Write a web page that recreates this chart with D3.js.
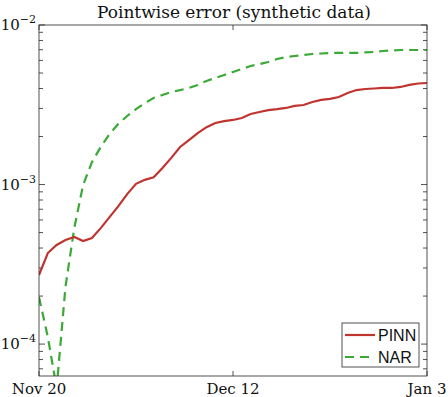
<!DOCTYPE html>
<html>
<head>
<meta charset="utf-8">
<script src="https://cdn.jsdelivr.net/npm/d3@7"></script>
<style>
  body { margin: 0; background: #fff; }
  svg { display: block; }
  .lbl { font-family: "DejaVu Serif", "Liberation Serif", serif; fill: #111; }
  .leg { font-family: "Liberation Sans", Arial, sans-serif; fill: #111; }
</style>
</head>
<body>
<div id="chart"></div>
<script>
// days since Nov 20 (daily values)
var startDate = new Date(2020, 10, 20);
var endDate = new Date(2021, 0, 3);

var pinn = [2.71e-4, 3.72e-4, 4.18e-4, 4.49e-4, 4.69e-4, 4.42e-4, 4.62e-4, 5.33e-4, 6.25e-4, 7.33e-4,
  8.71e-4, 1.01e-3, 1.07e-3, 1.11e-3, 1.27e-3, 1.47e-3, 1.72e-3, 1.90e-3, 2.10e-3, 2.29e-3,
  2.43e-3, 2.50e-3, 2.54e-3, 2.61e-3, 2.77e-3, 2.85e-3, 2.93e-3, 2.97e-3, 3.02e-3, 3.11e-3,
  3.15e-3, 3.29e-3, 3.39e-3, 3.44e-3, 3.54e-3, 3.75e-3, 3.91e-3, 3.97e-3, 4.00e-3, 4.03e-3,
  4.03e-3, 4.09e-3, 4.21e-3, 4.30e-3, 4.33e-3];

var nar = [1.97e-4, 1.11e-4, 5.3e-5, 2.28e-4, 5.33e-4, 9.93e-4, 1.38e-3, 1.72e-3, 2.07e-3, 2.40e-3,
  2.69e-3, 2.97e-3, 3.24e-3, 3.49e-3, 3.64e-3, 3.80e-3, 3.91e-3, 4.03e-3, 4.21e-3, 4.46e-3,
  4.66e-3, 4.86e-3, 5.08e-3, 5.30e-3, 5.53e-3, 5.69e-3, 5.86e-3, 6.12e-3, 6.30e-3, 6.39e-3,
  6.48e-3, 6.58e-3, 6.63e-3, 6.68e-3, 6.68e-3, 6.68e-3, 6.68e-3, 6.73e-3, 6.78e-3, 6.87e-3,
  6.92e-3, 6.97e-3, 6.97e-3, 6.97e-3, 6.97e-3];

var xTickLabels = ["Nov 20", "Dec 12", "Jan 3"];
var xTickDates = [new Date(2020, 10, 20), new Date(2020, 11, 12), new Date(2021, 0, 3)];
var yTickExps = [-2, -3, -4];

var W = 448, H = 397;
var margin = {top: 25, right: 21, bottom: 21, left: 39},
  width = W - margin.left - margin.right,
  height = H - margin.top - margin.bottom;

var x = d3.scaleTime().domain([startDate, endDate]).range([0, width]);
var y = d3.scaleLog().domain([Math.pow(10, -4.2), 1e-2]).range([height, 0]);

var dayMs = 24 * 3600 * 1000;
function dateOf(i) { return new Date(startDate.getTime() + i * dayMs); }

var svg = d3.select("#chart").append("svg")
  .attr("width", W)
  .attr("height", H);

var g = svg.append("g")
  .attr("transform", "translate(" + margin.left + "," + margin.top + ")");

g.append("clipPath").attr("id", "clip")
  .append("rect").attr("width", width).attr("height", height);

var axisColor = "#262626";

// minor log ticks, inward on both sides
var minor = [];
for (var e = -5; e < -2; e++) {
  for (var k = 1; k < 10; k++) {
    var v = k * Math.pow(10, e);
    if (v >= y.domain()[0] && v <= y.domain()[1]) minor.push({v: v, major: k == 1});
  }
}
minor.push({v: 1e-2, major: true});

var ticks = g.append("g").attr("stroke", axisColor).attr("stroke-width", 0.8);
minor.forEach(function(m) {
  var len = m.major ? 6 : 4;
  ticks.append("line").attr("x1", 0).attr("x2", len).attr("y1", y(m.v)).attr("y2", y(m.v));
  ticks.append("line").attr("x1", width).attr("x2", width - len).attr("y1", y(m.v)).attr("y2", y(m.v));
});
xTickDates.forEach(function(d) {
  ticks.append("line").attr("x1", x(d)).attr("x2", x(d)).attr("y1", height).attr("y2", height - 5);
  ticks.append("line").attr("x1", x(d)).attr("x2", x(d)).attr("y1", 0).attr("y2", 5);
});

// lines
var line = d3.line()
  .x(function(d, i) { return x(dateOf(i)); })
  .y(function(d) { return y(d); });

var plot = g.append("g").attr("clip-path", "url(#clip)");
plot.append("path").datum(nar)
  .attr("fill", "none")
  .attr("stroke", "#3aa935")
  .attr("stroke-width", 2.2)
  .attr("stroke-dasharray", "9,6")
  .attr("d", line);
plot.append("path").datum(pinn)
  .attr("fill", "none")
  .attr("stroke", "#c0342f")
  .attr("stroke-width", 2.2)
  .attr("d", line);

// axes box
g.append("rect")
  .attr("width", width).attr("height", height)
  .attr("fill", "none").attr("stroke", axisColor).attr("stroke-width", 0.8);

// x tick labels
xTickDates.forEach(function(d, i) {
  g.append("text").attr("class", "lbl")
    .attr("x", x(d)).attr("y", height + 18)
    .attr("text-anchor", "middle")
    .style("font-size", "15px")
    .text(xTickLabels[i]);
});

// y tick labels 10^e
yTickExps.forEach(function(e) {
  var t = svg.append("text").attr("class", "lbl")
    .attr("x", margin.left - 3).attr("y", margin.top + y(Math.pow(10, e)) + 5)
    .attr("text-anchor", "end")
    .style("font-size", "15px");
  t.append("tspan").text("10");
  t.append("tspan").attr("dy", -7).style("font-size", "11px").text("\u2212" + (-e));
});

// title
svg.append("text").attr("class", "lbl")
  .attr("x", margin.left + width / 2 + 1).attr("y", 18)
  .attr("text-anchor", "middle")
  .style("font-size", "17px")
  .text("Pointwise error (synthetic data)");

// legend
var leg = svg.append("g").attr("transform", "translate(342,323)");
leg.append("rect").attr("width", 77).attr("height", 44)
  .attr("fill", "#fff").attr("stroke", axisColor).attr("stroke-width", 0.8);
var items = [{name: "PINN", color: "#c0342f", dash: null}, {name: "NAR", color: "#3aa935", dash: "9,6"}];
items.forEach(function(it, i) {
  var yy = 12 + i * 22;
  leg.append("line").attr("x1", 3).attr("x2", 33).attr("y1", yy).attr("y2", yy)
    .attr("stroke", it.color).attr("stroke-width", 2.2)
    .attr("stroke-dasharray", it.dash);
  leg.append("text").attr("class", "leg")
    .attr("x", 36).attr("y", yy + 6)
    .style("font-size", "16px")
    .text(it.name);
});
</script>
</body>
</html>
